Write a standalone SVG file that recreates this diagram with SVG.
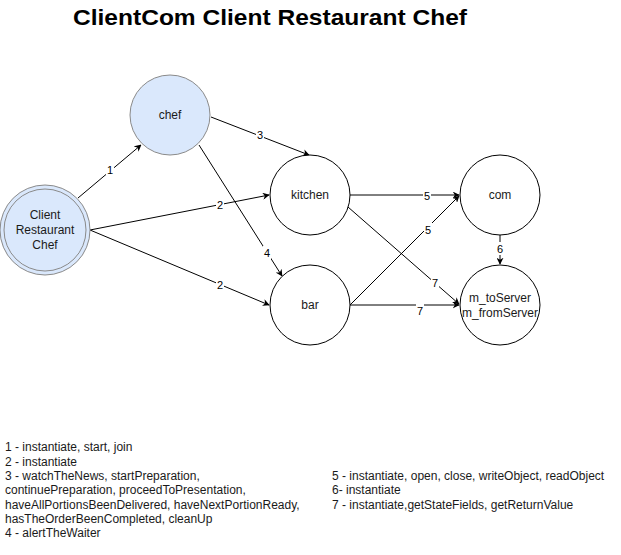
<svg xmlns="http://www.w3.org/2000/svg" width="621" height="555" viewBox="0 0 621 555">
<style>
.n{fill:#fff;stroke:#000;stroke-width:1}
.b{fill:#dae8fc;stroke:#8a8a8a;stroke-width:1}
.t{font-family:"Liberation Sans",Arial,sans-serif;font-size:12px;fill:#1a1a1a;text-anchor:middle}
.e{stroke:#000;stroke-width:1;fill:none;marker-end:url(#a)}
.l{font-family:"Liberation Sans",Arial,sans-serif;font-size:11px;fill:#000;text-anchor:middle}
.g{font-family:"Liberation Sans",Arial,sans-serif;font-size:12px;fill:#1a1a1a}
</style>
<defs>
<marker id="a" viewBox="0 0 10 10" refX="9" refY="5" markerWidth="7" markerHeight="7" orient="auto" markerUnits="userSpaceOnUse">
<path d="M0,0 L10,5 L0,10 L3,5 Z" fill="#000"/>
</marker>
</defs>
<rect width="621" height="555" fill="#fff"/>
<text x="270" y="25" font-family="Liberation Sans,Arial,sans-serif" font-size="22" font-weight="bold" text-anchor="middle" textLength="394" lengthAdjust="spacingAndGlyphs">ClientCom Client Restaurant Chef</text>
<g id="edges">
<path class="e" d="M78,198 L141,145"/>
<path class="e" d="M90,230 L269,195"/>
<path class="e" d="M90,230 L269,305"/>
<path class="e" d="M211,117 L309,155"/>
<path class="e" d="M199,145 L282,276"/>
<path class="e" d="M350,195 L459,195"/>
<path class="e" d="M350,305 L459,196"/>
<path class="e" d="M348,207 L459,304"/>
<path class="e" d="M350,305 L459,305"/>
<path class="e" d="M500,235 L500,264"/>
<g>
<rect x="106" y="163" width="8" height="13" fill="#fff"/><text class="l" x="110" y="174">1</text>
<rect x="216" y="198" width="8" height="13" fill="#fff"/><text class="l" x="220" y="209">2</text>
<rect x="216" y="278" width="8" height="13" fill="#fff"/><text class="l" x="220" y="289">2</text>
<rect x="256" y="128" width="8" height="13" fill="#fff"/><text class="l" x="260" y="139">3</text>
<rect x="263" y="246" width="8" height="13" fill="#fff"/><text class="l" x="267" y="257">4</text>
<rect x="423" y="189" width="8" height="13" fill="#fff"/><text class="l" x="427" y="200">5</text>
<rect x="424" y="223" width="8" height="13" fill="#fff"/><text class="l" x="428" y="234">5</text>
<rect x="431" y="276" width="8" height="13" fill="#fff"/><text class="l" x="435" y="287">7</text>
<rect x="416" y="304" width="8" height="13" fill="#fff"/><text class="l" x="420" y="315" fill="#555">7</text>
<rect x="496" y="242" width="8" height="13" fill="#fff"/><text class="l" x="500" y="253">6</text>
</g>
</g>
<g id="crc">
<circle class="b" cx="45" cy="230" r="45"/>
<circle class="b" cx="45" cy="230" r="41"/>
<text class="t" x="45" y="219">Client</text>
<text class="t" x="45" y="234">Restaurant</text>
<text class="t" x="45" y="249">Chef</text>
</g>
<g id="chef"><circle class="b" cx="170" cy="115" r="40"/><text class="t" x="170" y="119">chef</text></g>
<g id="kitchen"><circle class="n" cx="310" cy="195" r="40"/><text class="t" x="310" y="199">kitchen</text></g>
<g id="bar"><circle class="n" cx="310" cy="305" r="40"/><text class="t" x="310" y="309">bar</text></g>
<g id="com"><circle class="n" cx="500" cy="195" r="40"/><text class="t" x="500" y="199">com</text></g>
<g id="mserver"><circle class="n" cx="500" cy="305" r="40"/><text class="t" x="500" y="302">m_toServer</text><text class="t" x="500" y="317">m_fromServer</text></g>
<g id="legend">
<text class="g" x="5" y="451">1 - instantiate, start, join</text>
<text class="g" x="5" y="466">2 - instantiate</text>
<text class="g" x="5" y="480">3 - watchTheNews, startPreparation,</text>
<text class="g" x="5" y="494">continuePreparation, proceedToPresentation,</text>
<text class="g" x="5" y="509">haveAllPortionsBeenDelivered, haveNextPortionReady,</text>
<text class="g" x="5" y="523">hasTheOrderBeenCompleted, cleanUp</text>
<text class="g" x="5" y="537">4 - alertTheWaiter</text>
<text class="g" x="332" y="480">5 - instantiate, open, close, writeObject, readObject</text>
<text class="g" x="332" y="494">6- instantiate</text>
<text class="g" x="332" y="509">7 - instantiate,getStateFields, getReturnValue</text>
</g>
</svg>
